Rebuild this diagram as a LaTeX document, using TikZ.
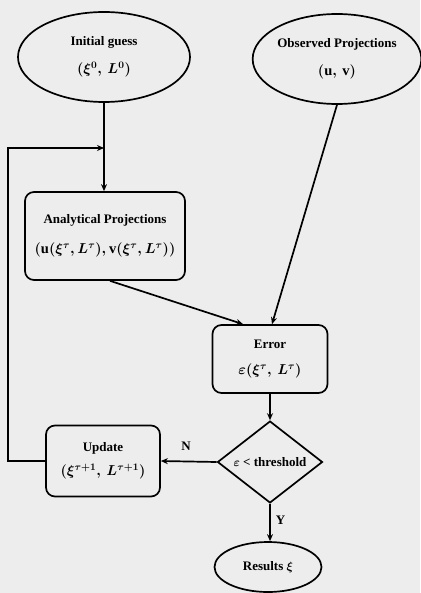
\documentclass[tikz,border=0pt]{standalone}
\usepackage{fontspec}
\setmainfont{Liberation Serif}
\usetikzlibrary{shapes.geometric,arrows.meta}
\newcommand{\mline}[1]{{\fontsize{14.5}{17}\selectfont$#1$}}
\begin{document}
\begin{tikzpicture}[x=1pt,y=-1pt,
  every node/.style={font=\bfseries\boldmath\fontsize{13}{15}\selectfont, align=center, inner sep=0pt},
  ell/.style={draw, ellipse, line width=1.7pt},
  rbox/.style={draw, rounded corners=9pt, line width=1.7pt},
  dia/.style={draw, diamond, line width=1.7pt},
  conn/.style={line width=1.7pt},
  arr/.style={conn, -{Stealth[length=7pt,width=6pt]}},
  lbl/.style={font=\bfseries\fontsize{13}{15}\selectfont}]
\fill[black!7] (0,0) rectangle (420,593);
\useasboundingbox (0,0) rectangle (420,593);

\node[ell, minimum width=172pt, minimum height=90pt] (init) at (104,57)
  {Initial guess\\[13pt]\mline{(\xi^{0},\, L^{0})}};
\node[ell, minimum width=168pt, minimum height=90pt] (obs) at (337,59)
  {Observed Projections\\[13pt]\mline{(\mathrm{u},\, \mathrm{v})}};
\node[rbox, minimum width=160pt, minimum height=88pt] (anal) at (105,236)
  {Analytical Projections\\[15pt]\mline{(\mathrm{u}(\xi^{\tau}, L^{\tau}), \mathrm{v}(\xi^{\tau}, L^{\tau}))}};
\node[rbox, minimum width=115pt, minimum height=68pt] (err) at (270,359)
  {Error\\[11pt]\mline{\varepsilon(\xi^{\tau},\, L^{\tau})}};
\node[dia, minimum width=105pt, minimum height=57pt] (dec) at (270,462)
  {$\varepsilon$ < threshold};
\node[rbox, minimum width=114pt, minimum height=71pt] (upd) at (103,461)
  {Update\\[9pt]\mline{(\xi^{\tau+1},\, L^{\tau+1})}};
\node[ell, minimum width=107pt, minimum height=50pt] (res) at (268,567)
  {Results $\xi$};

\coordinate (j) at (104,148);
\coordinate (lp) at (8,148);

\draw[arr] (init.south) -- (init.south |- anal.north);
\draw[arr] (upd.west) -| (lp) -- (j);
\draw[arr] ([xshift=5pt]anal.south) -- ([xshift=-27pt]err.north);
\draw[arr] (obs.south) -- ([xshift=2pt]err.north);
\draw[arr] (err.south) -- (dec.north);
\draw[arr] (dec.west) -- node[lbl, above=10pt, pos=0.55] {N} (upd.east);
\draw[arr] (dec.south) -- node[lbl, right=5pt, pos=0.45] {Y} (dec.south |- res.north);
\end{tikzpicture}
\end{document}
